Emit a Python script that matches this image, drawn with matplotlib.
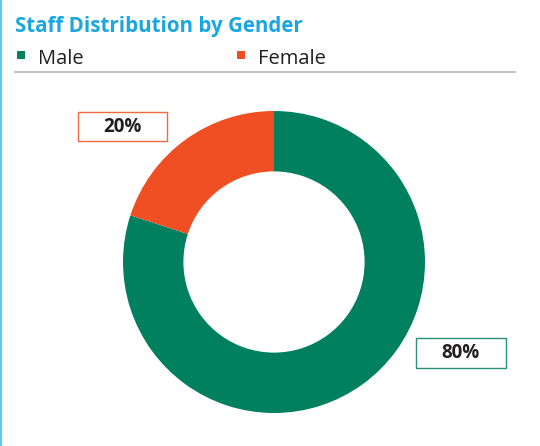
import matplotlib
matplotlib.use("Agg")
from matplotlib import pyplot as plt
from matplotlib.patches import Rectangle
from matplotlib.lines import Line2D

plt.rcParams['font.family'] = ['Open Sans', 'DejaVu Sans']

# data
labels = ["Male", "Female"]
values = [80, 20]
colors = ["#00805f", "#f04e23"]
title = "Staff Distribution by Gender"

W, H = 540, 446
fig = plt.figure(figsize=(W / 100, H / 100), dpi=100)

def fx(px):
    return px / W

def fy(py):
    return 1 - py / H

# left accent line
fig.add_artist(Line2D([fx(1), fx(1)], [0, 1], color="#5ccbf2", lw=1.5))

# title
fig.text(fx(15), fy(32), title, color="#1aa7e1", fontsize=14.8,
         fontweight="bold", va="baseline", ha="left")

# legend
leg_x = [17, 237]
for i, lab in enumerate(labels):
    fig.add_artist(Rectangle((fx(leg_x[i]), fy(59)), fx(8), 8 / H,
                             color=colors[i], lw=0))
    fig.text(fx(leg_x[i] + 21), fy(63.5), lab, fontsize=14.5, color="#231f20",
             va="baseline", ha="left")

# separator line
fig.add_artist(Line2D([fx(15), fx(515)], [fy(71.5), fy(71.5)],
                      color="#b5b5b5", lw=1.2))

# donut
cx, cy, r = 274, 262, 151
ax = fig.add_axes([fx(cx - r), fy(cy + r), 2 * r / W, 2 * r / H])
ax.pie(values, colors=colors, startangle=90, counterclock=False,
       radius=1, wedgeprops=dict(width=0.4, linewidth=0))
ax.set_xlim(-1, 1)
ax.set_ylim(-1, 1)
ax.axis("off")

# value boxes
boxes = [(416, 338, 90, 30), (78, 112, 89, 29)]
for i, (bx, by, bw, bh) in enumerate(boxes):
    fig.add_artist(Rectangle((fx(bx), fy(by + bh)), bw / W, bh / H,
                             facecolor="white", edgecolor=colors[i], lw=1,
                             alpha=0.85))
    fig.text(fx(bx + bw / 2), fy(by + bh / 2), f"{values[i]}%",
             fontsize=13.5, fontweight="bold", color="#231f20",
             ha="center", va="center")

fig.savefig("out.png", dpi=100)
